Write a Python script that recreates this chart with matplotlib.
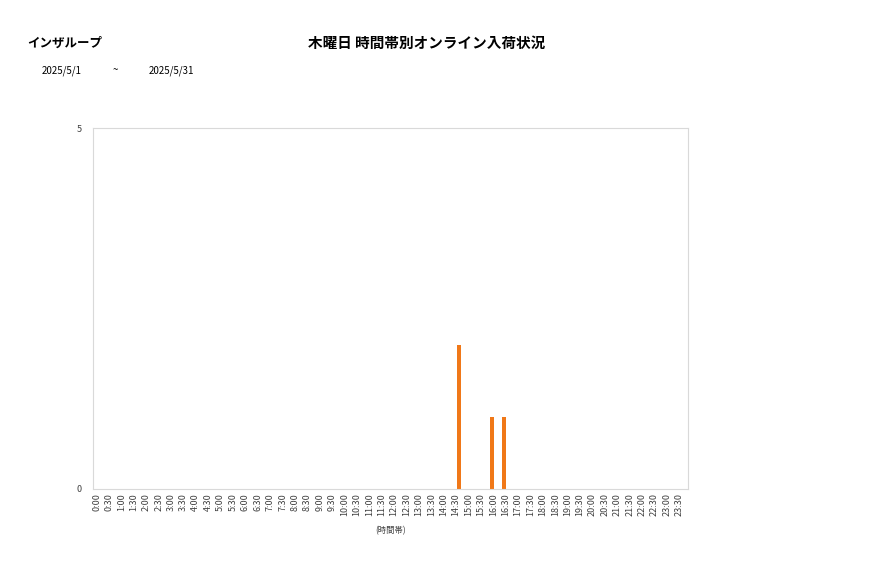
import numpy as np
import matplotlib.pyplot as plt

plt.rcParams['font.family'] = ['Noto Sans CJK JP', 'DejaVu Sans']

# 時間帯 (30分刻み) と入荷件数
time_slots = [f'{h}:{m:02d}' for h in range(24) for m in (0, 30)]
counts_a = [0] * 48
counts_b = [0] * 48
counts_a[time_slots.index('16:00')] = 1
counts_a[time_slots.index('16:30')] = 1
counts_b[time_slots.index('14:30')] = 2

title = '木曜日 時間帯別オンライン入荷状況'
shop = 'インザループ'
date_from = '2025/5/1'
date_to = '2025/5/31'

fig = plt.figure(figsize=(8.77, 5.78), dpi=100)
ax = fig.add_axes([0.1060, 0.154, 0.6785, 0.6245])

x = np.arange(len(time_slots))
w = 0.32
ax.bar(x - w, counts_a, width=w, color='#F07818')
ax.bar(x, counts_b, width=w, color='#F07818')

ax.set_xlim(-0.5, len(time_slots) - 0.5)
ax.set_ylim(0, 5)
ax.set_yticks([0, 5])
ax.set_xticks(x - 0.2)
ax.set_xticklabels(time_slots, rotation=90, fontsize=6.5, color='#404040')
ax.tick_params(axis='both', length=0, pad=3)
ax.tick_params(axis='y', labelsize=6.5, labelcolor='#404040', pad=8)
for s in ax.spines.values():
    s.set_color('#D9D9D9')
ax.set_xlabel('(時間帯)', fontsize=6, color='#404040', labelpad=7)

fig.text(0.487, 0.925, title, ha='center', va='center', fontsize=10.5, fontweight='bold')
fig.text(0.031, 0.925, shop, ha='left', va='center', fontsize=9, fontweight='bold')
fig.text(0.047, 0.878, date_from, ha='left', va='center', fontsize=7)
fig.text(0.128, 0.878, '~', ha='left', va='center', fontsize=7)
fig.text(0.169, 0.878, date_to, ha='left', va='center', fontsize=7)

fig.savefig('out.png', dpi=100)
